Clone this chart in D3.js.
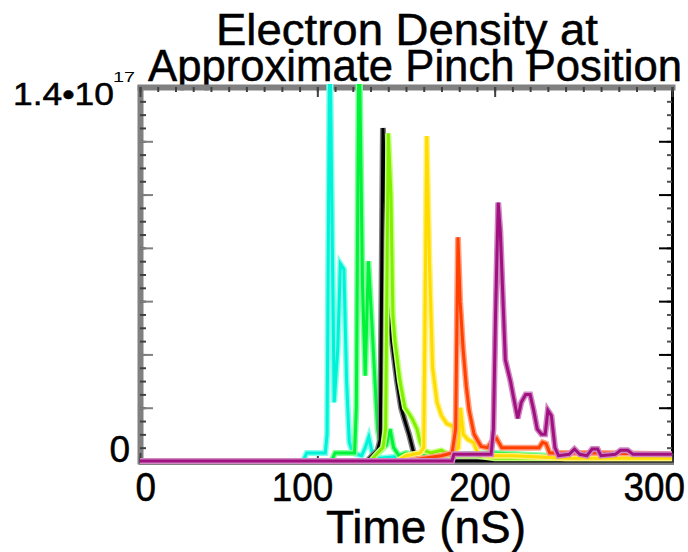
<!DOCTYPE html>
<html>
<head>
<meta charset="utf-8">
<script src="https://cdn.jsdelivr.net/npm/d3@7"></script>
<style>
    body { margin: 0; background: #fff; }
    svg { display: block; font-family: "Liberation Sans", Arial, sans-serif; }
    .lbl { fill: #000; stroke: #000; stroke-width: 0.5px; }
</style>
</head>
<body>
<div id="graph"></div>
<script>
// chart text
var titleLines = ['Electron Density at', 'Approximate Pinch Position'];
var xTitle = 'Time (nS)';
var xTickLabels = [0, 100, 200, 300];
var yTopLabel = '1.4\u202210';
var yTopExp = '17';
var yBottomLabel = '0';

// electron density, units of 1e17 cm^-3, [time (nS), value]
var cyanData = [[0,0],[92,0],[94,0.03],[104.5,0.03],[105.5,0.1],[107,1.65],[109.5,0.22],[111.5,0.42],[113,0.74],[115,0.72],[116.5,0.3],[118,0.07],[120,0.03],[125,0.02],[127,0.05],[129,0.09],[131,0.03],[135,0.01],[150,0.02],[160,0.01],[200,0.01],[300,0.01]];
var greenData = [[0,0],[108,0],[110,0.03],[121,0.03],[122,0.2],[123.5,1.65],[125.5,0.65],[127,0.32],[128.8,0.75],[130.5,0.55],[132.5,0.3],[134,0.12],[136,0.04],[139,0.06],[141,0.12],[143,0.05],[146,0.02],[150,0.03],[160,0.02],[200,0.03],[230,0.02],[300,0.02]];
var blackData = [[0,0],[128,0],[131,0.02],[134,0.04],[135.5,0.08],[137,1.25],[138.5,0.95],[139.5,0.72],[141,0.5],[142.6,0.42],[144.9,0.3],[147.2,0.2],[149.4,0.15],[151.7,0.1],[154,0.04],[156,0.01],[170,0],[300,0]];
var limeData = [[0,0],[130,0],[134,0.03],[137,0.05],[138.5,0.12],[140,1.23],[141.5,1.0],[142.6,0.55],[143.8,0.45],[146.6,0.3],[149.4,0.2],[151.5,0.18],[153.4,0.16],[156.2,0.12],[158,0.07],[160,0.04],[164,0.03],[170,0.04],[175,0.02],[190,0.02],[200,0.01],[300,0.01]];
var yellowData = [[0,0],[145,0],[150,0.02],[158,0.03],[160,0.05],[161.7,1.22],[163.2,0.75],[165,0.35],[167.5,0.22],[170,0.17],[173,0.14],[176.5,0.13],[178,0.04],[179.5,0.05],[180.7,0.2],[182.3,0.1],[185,0.08],[188,0.07],[190.5,0.03],[195,0.02],[210,0.02],[240,0.01],[300,0.01]];
var orangeData = [[0,0],[150,0],[160,0.01],[170,0.02],[176,0.03],[178,0.12],[179.3,0.84],[180.5,0.6],[182.2,0.42],[184,0.28],[185.6,0.19],[188.4,0.1],[192.3,0.055],[196,0.05],[198,0.07],[201,0.085],[204,0.05],[215,0.05],[225,0.05],[227,0.07],[229,0.065],[231,0.03],[240,0.03],[260,0.03],[300,0.025]];
var purpleData = [[0,0],[176,0],[177,0.025],[198,0.025],[199.3,0.12],[200.5,0.55],[202,0.97],[203.2,0.86],[206,0.38],[208.9,0.3],[210.6,0.24],[213,0.16],[215,0.22],[217.5,0.25],[220,0.25],[222,0.19],[224,0.12],[226.4,0.1],[228.5,0.1],[230,0.19],[232,0.17],[234,0.05],[236,0.02],[242,0.025],[245,0.045],[248,0.025],[252,0.02],[255,0.045],[258,0.045],[260,0.02],[268,0.025],[271,0.04],[275,0.04],[278,0.025],[300,0.025]];

var lineColors = ['#00f2d8', '#00f23a', '#000000', '#80f000', '#ffdc00', '#ff4000', '#a0107f'];
var haloColors = ['#80ffea', '#80ff9c', '#808080', '#c4ff80', '#fff07a', '#ffa080', '#d088c4'];

var allData = [cyanData, greenData, blackData, limeData, yellowData, orangeData, purpleData];

var width = 688,
    height = 552;

var svg = d3.select('#graph')
    .append('svg')
        .attr('width', width)
        .attr('height', height);

var x = d3.scaleLinear()
    .domain([0, 300])
    .range([140, 672]);

var y = d3.scaleLinear()
    .domain([0, 1.4])
    .range([461, 88]);

// TITLE ------------------------------------------------------------
svg.append('text')
    .attr('class', 'lbl')
    .attr('x', 407)
    .attr('y', 45)
    .attr('text-anchor', 'middle')
    .attr('textLength', 382)
    .attr('lengthAdjust', 'spacingAndGlyphs')
    .style('font-size', '44px')
    .text(titleLines[0]);
svg.append('text')
    .attr('class', 'lbl')
    .attr('x', 415)
    .attr('y', 81)
    .attr('text-anchor', 'middle')
    .attr('textLength', 534)
    .attr('lengthAdjust', 'spacingAndGlyphs')
    .style('font-size', '44px')
    .text(titleLines[1]);

// AXES -------------------------------------------------------------
var yMajor = d3.range(0, 8).map(function(i) { return i * 0.2; });
var yMinor = d3.range(0, 29).map(function(i) { return i * 0.05; });
var xMajor = [0, 100, 200, 300];
var xMinor = d3.range(0, 31).map(function(i) { return i * 10; });

function styleAxis(g, col, w, tickCol) {
    g.select('.domain').attr('stroke', col).attr('stroke-width', w).attr('stroke-linecap', 'square');
    g.selectAll('.tick line').attr('stroke', tickCol).attr('stroke-width', 2);
}

// left
svg.append('g')
    .attr('transform', 'translate(140,0)')
    .call(d3.axisLeft(y).tickValues(yMinor).tickSize(-6).tickSizeOuter(0).tickFormat(''))
    .call(styleAxis, '#808080', 6, '#404040');
svg.append('g')
    .attr('transform', 'translate(140,0)')
    .call(d3.axisLeft(y).tickValues(yMajor).tickSize(-13).tickSizeOuter(0).tickFormat(''))
    .call(styleAxis, 'none', 0, '#808080');

// right
svg.append('g')
    .attr('transform', 'translate(672,0)')
    .call(d3.axisRight(y).tickValues(yMinor).tickSize(-5).tickSizeOuter(0).tickFormat(''))
    .call(styleAxis, '#000', 3, '#505050');
svg.append('g')
    .attr('transform', 'translate(672,0)')
    .call(d3.axisRight(y).tickValues(yMajor).tickSize(-13).tickSizeOuter(0).tickFormat(''))
    .call(styleAxis, 'none', 0, '#000');

// top
svg.append('g')
    .attr('transform', 'translate(0,87)')
    .call(d3.axisTop(x).tickValues(xMinor).tickSize(-5).tickSizeOuter(0).tickFormat(''))
    .call(styleAxis, '#808080', 6, '#404040');
svg.append('g')
    .attr('transform', 'translate(0,87)')
    .call(d3.axisTop(x).tickValues(xMajor).tickSize(-10).tickSizeOuter(0).tickFormat(''))
    .call(styleAxis, 'none', 0, '#404040');

// bottom
svg.append('g')
    .attr('transform', 'translate(0,463)')
    .call(d3.axisBottom(x).tickValues(xMinor).tickSize(-5).tickSizeOuter(0).tickFormat(''))
    .call(styleAxis, '#808080', 3, '#404040');
svg.append('g')
    .attr('transform', 'translate(0,463)')
    .call(d3.axisBottom(x).tickValues(xMajor).tickSize(-10).tickSizeOuter(0).tickFormat(''))
    .call(styleAxis, 'none', 0, '#404040');

// tick labels
svg.append('g')
    .selectAll('text')
    .data(xTickLabels).enter().append('text')
        .attr('class', 'lbl')
        .attr('x', function(d) { return Math.min(x(d) + 16, 685); })
        .attr('y', 501)
        .attr('text-anchor', 'end')
        .attr('textLength', function(d) { return String(d).length * 20.5; })
        .attr('lengthAdjust', 'spacingAndGlyphs')
        .style('font-size', '40px')
        .text(function(d) { return d; });

svg.append('text')
    .attr('class', 'lbl')
    .attr('x', 114)
    .attr('y', y(1.4) + 17)
    .attr('text-anchor', 'end')
    .attr('textLength', 101)
    .attr('lengthAdjust', 'spacingAndGlyphs')
    .style('font-size', '31px')
    .text(yTopLabel);
svg.append('text')
    .attr('x', 113)
    .attr('y', y(1.4) - 6)
    .attr('textLength', 22)
    .attr('lengthAdjust', 'spacingAndGlyphs')
    .style('font-size', '15px')
    .text(yTopExp);
svg.append('text')
    .attr('class', 'lbl')
    .attr('x', 130)
    .attr('y', y(0) + 1)
    .attr('text-anchor', 'end')
    .style('font-size', '37px')
    .text(yBottomLabel);

svg.append('text')
    .attr('class', 'lbl')
    .attr('x', 426)
    .attr('y', 543)
    .attr('text-anchor', 'middle')
    .attr('textLength', 200)
    .attr('lengthAdjust', 'spacingAndGlyphs')
    .style('font-size', '47px')
    .text(xTitle);

// LINES ------------------------------------------------------------
svg.append('clipPath')
    .attr('id', 'plotclip')
    .append('rect')
        .attr('x', 137)
        .attr('y', 84)
        .attr('width', 538)
        .attr('height', 384);

var line = d3.line()
    .x(function(d) { return x(d[0]); })
    .y(function(d) { return y(d[1]); });

var plot = svg.append('g').attr('clip-path', 'url(#plotclip)');

allData.forEach(function(data, i) {
    plot.append('path')
        .datum(data)
        .attr('d', line)
        .attr('fill', 'none')
        .attr('stroke', haloColors[i])
        .attr('stroke-width', 6);
    plot.append('path')
        .datum(data)
        .attr('d', line)
        .attr('fill', 'none')
        .attr('stroke', lineColors[i])
        .attr('stroke-width', 3);
});
</script>
</body>
</html>
